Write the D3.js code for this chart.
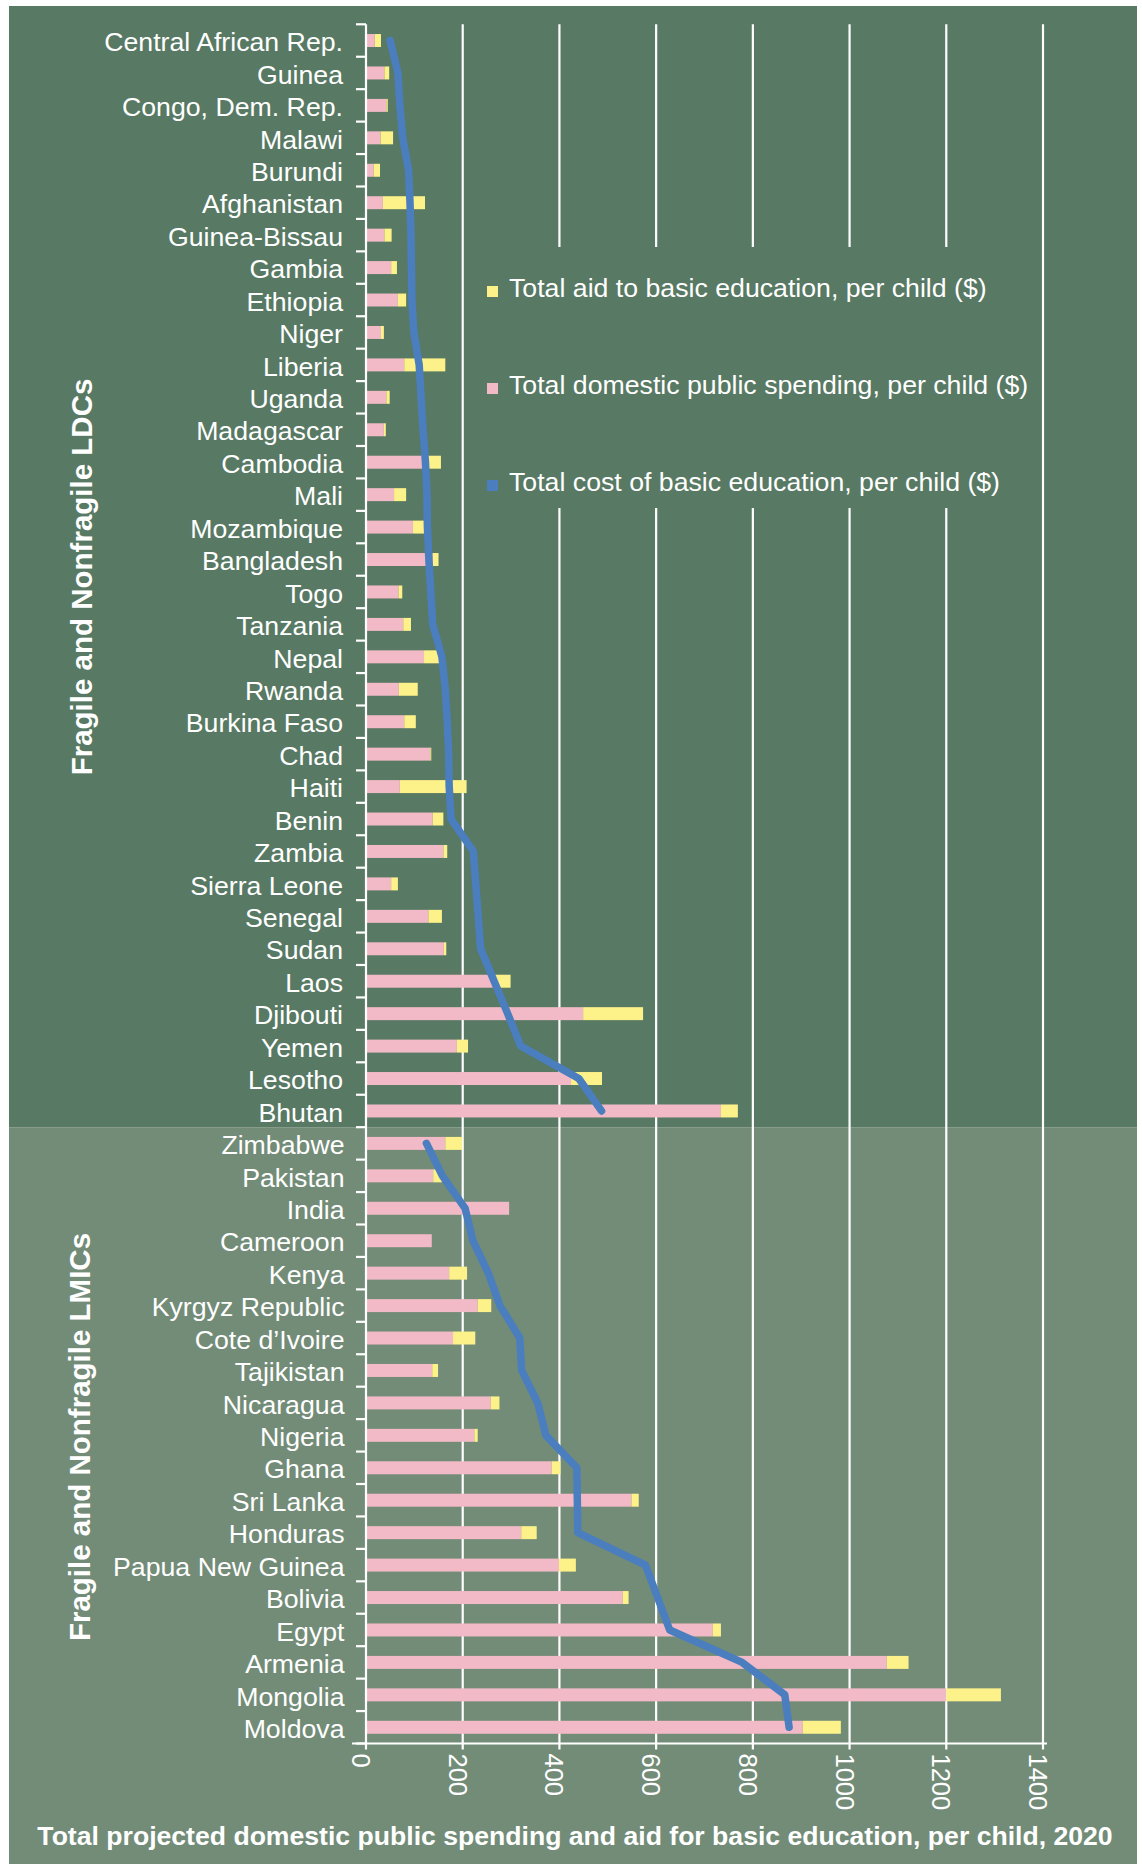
<!DOCTYPE html>
<html>
<head>
<meta charset="utf-8">
<script src="https://cdn.jsdelivr.net/npm/d3@7"></script>
<style>
  body { margin: 0; background: #ffffff; }
  svg { display: block; }
  text { font-family: "Liberation Sans", Arial, Helvetica, sans-serif; fill: #ffffff; }
</style>
</head>
<body>
<svg id="chart" width="1142" height="1864"></svg>
<script>
// ---- Fragile and nonfragile least developed countries ----
const ldcCountries = ["Central African Rep.", "Guinea", "Congo, Dem. Rep.", "Malawi", "Burundi",
  "Afghanistan", "Guinea-Bissau", "Gambia", "Ethiopia", "Niger", "Liberia", "Uganda", "Madagascar",
  "Cambodia", "Mali", "Mozambique", "Bangladesh", "Togo", "Tanzania", "Nepal", "Rwanda",
  "Burkina Faso", "Chad", "Haiti", "Benin", "Zambia", "Sierra Leone", "Senegal", "Sudan", "Laos",
  "Djibouti", "Yemen", "Lesotho", "Bhutan"];
const ldcDomestic = [18, 38, 42, 30, 16, 35, 38, 52, 66, 31, 79, 42, 37, 125, 58, 97, 138, 67, 77,
  120, 68, 79, 133, 70, 138, 160, 52, 129, 161, 265, 449, 188, 424, 734];
const ldcAid = [13, 10, 3, 26, 13, 87, 15, 12, 17, 6, 85, 7, 4, 30, 25, 25, 12, 8, 16,
  33, 39, 24, 2, 138, 22, 8, 14, 28, 5, 34, 124, 23, 64, 35];
const ldcCost = [50, 66, 70, 76, 88, 91, 93, 94, 95, 99, 110, 114, 118, 123, 126, 127, 130, 134, 138,
  157, 164, 168, 171, 172, 176, 222, 227, 232, 237, 265, 293, 320, 440, 487];

// ---- Fragile and nonfragile lower-middle-income countries ----
const lmicCountries = ["Zimbabwe", "Pakistan", "India", "Cameroon", "Kenya", "Kyrgyz Republic",
  "Cote d\u2019Ivoire", "Tajikistan", "Nicaragua", "Nigeria", "Ghana", "Sri Lanka", "Honduras",
  "Papua New Guinea", "Bolivia", "Egypt", "Armenia", "Mongolia", "Moldova"];
const lmicDomestic = [164, 139, 296, 136, 172, 231, 180, 137, 258, 224, 384, 549, 321, 399, 531, 717,
  1077, 1200, 903];
const lmicAid = [35, 18, 0, 0, 37, 28, 46, 12, 18, 7, 18, 15, 32, 35, 12, 17, 45, 113, 79];
const lmicCost = [125, 158, 205, 221, 253, 277, 318, 322, 355, 372, 436, 437, 438, 578, 603, 628,
  778, 866, 875];

const groupLabels = ["Fragile and Nonfragile LDCs", "Fragile and Nonfragile LMICs"];
const xTicks = [0, 200, 400, 600, 800, 1000, 1200, 1400];
const legendLabels = ["Total aid to basic education, per child ($)",
  "Total domestic public spending, per child ($)",
  "Total cost of basic education, per child ($)"];
const xTitle = "Total projected domestic public spending and aid for basic education, per child, 2020";

// ---- colours ----
const darkPanel = "#587963";
const lightPanel = "#738c78";
const pink = "#f2bac6";
const yellow = "#fdf189";
const blue = "#4a7ebf";
const white = "#ffffff";

// ---- rows ----
const ldcRows = ldcCountries.map((c, i) => ({ country: c, domestic: ldcDomestic[i], aid: ldcAid[i], cost: ldcCost[i] }));
const lmicRows = lmicCountries.map((c, i) => ({ country: c, domestic: lmicDomestic[i], aid: lmicAid[i], cost: lmicCost[i] }));
const rows = ldcRows.concat(lmicRows);

const svg = d3.select("#chart");
const W = 1142, H = 1864;

const x = d3.scaleLinear().domain([0, 1400]).range([366, 1043]);
const y = d3.scaleBand()
  .domain(rows.map(d => d.country))
  .range([24.3, 1743.5])
  .paddingInner(0.6)
  .paddingOuter(0.3);
const slotTop = c => y(c) - (y.step() - y.bandwidth()) / 2; // upper edge of a category slot
const yMid = c => y(c) + y.bandwidth() / 2;

const plotTop = y.range()[0], plotBottom = y.range()[1];
const split = slotTop(lmicRows[0].country);

// ---- backgrounds ----
svg.append("rect").attr("x", 0).attr("y", 0).attr("width", W).attr("height", H).attr("fill", white);
svg.append("rect").attr("x", 9).attr("y", 6).attr("width", 1128).attr("height", split - 6).attr("fill", darkPanel);
svg.append("rect").attr("x", 9).attr("y", split).attr("width", 1128).attr("height", H - split).attr("fill", lightPanel);

// ---- vertical gridlines ----
svg.append("g").selectAll("line")
  .data(xTicks.filter(t => t > 0))
  .join("line")
  .attr("x1", d => x(d)).attr("x2", d => x(d))
  .attr("y1", plotTop).attr("y2", plotBottom)
  .attr("stroke", white).attr("stroke-width", 2.2);

// ---- legend box (sits over the gridlines) ----
const legend = svg.append("g");
legend.append("rect").attr("x", 470).attr("y", 247).attr("width", 568).attr("height", 261).attr("fill", darkPanel);
const legendColors = [yellow, pink, blue];
legendLabels.forEach((label, i) => {
  const base = 297 + i * 97;
  legend.append("rect").attr("x", 487).attr("y", base - 11).attr("width", 11).attr("height", 11).attr("fill", legendColors[i]);
  legend.append("text").attr("x", 509).attr("y", base).attr("font-size", 26.7).text(label);
});

// ---- stacked bars ----
const bars = svg.append("g");
bars.selectAll("rect.dom")
  .data(rows)
  .join("rect")
  .attr("class", "dom")
  .attr("x", x(0) + 1)
  .attr("y", d => y(d.country))
  .attr("width", d => Math.max(0, x(d.domestic) - x(0) - 1))
  .attr("height", y.bandwidth())
  .attr("fill", pink);
bars.selectAll("rect.aid")
  .data(rows.filter(d => d.aid > 0))
  .join("rect")
  .attr("class", "aid")
  .attr("x", d => x(d.domestic))
  .attr("y", d => y(d.country))
  .attr("width", d => x(d.domestic + d.aid) - x(d.domestic))
  .attr("height", y.bandwidth())
  .attr("fill", yellow);

// ---- cost lines (one per group) ----
const line = d3.line().x(d => x(d.cost)).y(d => yMid(d.country));
[ldcRows, lmicRows].forEach(group => {
  svg.append("path")
    .attr("d", line(group))
    .attr("fill", "none")
    .attr("stroke", blue)
    .attr("stroke-width", 7.5)
    .attr("stroke-linecap", "round")
    .attr("stroke-linejoin", "round");
});

// ---- category axis ----
const yAxis = svg.append("g");
yAxis.append("line")
  .attr("x1", x(0)).attr("x2", x(0))
  .attr("y1", plotTop).attr("y2", plotBottom)
  .attr("stroke", white).attr("stroke-width", 2.2);
const boundaries = rows.map(d => slotTop(d.country)).concat([plotBottom]);
yAxis.selectAll("line.tick")
  .data(boundaries)
  .join("line")
  .attr("class", "tick")
  .attr("x1", x(0) - 10).attr("x2", x(0))
  .attr("y1", d => d).attr("y2", d => d)
  .attr("stroke", white).attr("stroke-width", 2.2);
yAxis.selectAll("text")
  .data(rows)
  .join("text")
  .attr("x", d => (lmicRows.includes(d) ? 344.5 : 343))
  .attr("y", d => yMid(d.country))
  .attr("dy", "0.4em")
  .attr("text-anchor", "end")
  .attr("font-size", 26.7)
  .text(d => d.country);

// ---- value axis ----
const xAxis = svg.append("g");
xAxis.append("line")
  .attr("x1", x(0) - 14).attr("x2", x(1400) + 4)
  .attr("y1", plotBottom).attr("y2", plotBottom)
  .attr("stroke", white).attr("stroke-width", 2.2);
xAxis.selectAll("line.tick")
  .data(xTicks)
  .join("line")
  .attr("class", "tick")
  .attr("x1", d => x(d)).attr("x2", d => x(d))
  .attr("y1", plotBottom).attr("y2", plotBottom + 6)
  .attr("stroke", white).attr("stroke-width", 2.2);
xAxis.selectAll("text")
  .data(xTicks)
  .join("text")
  .attr("transform", d => `translate(${x(d)},${plotBottom + 10}) rotate(90)`)
  .attr("x", 0)
  .attr("y", 14)
  .attr("text-anchor", "start")
  .attr("font-size", 25.5)
  .text(d => d);

// ---- group titles ----
svg.append("text")
  .attr("transform", "translate(92,577) rotate(-90)")
  .attr("text-anchor", "middle")
  .attr("font-size", 29.5).attr("font-weight", "bold")
  .text(groupLabels[0]);
svg.append("text")
  .attr("transform", "translate(90,1437) rotate(-90)")
  .attr("text-anchor", "middle")
  .attr("font-size", 29.5).attr("font-weight", "bold")
  .text(groupLabels[1]);

// ---- value axis title ----
svg.append("text")
  .attr("x", 575).attr("y", 1845)
  .attr("text-anchor", "middle")
  .attr("font-size", 26.6).attr("font-weight", "bold")
  .text(xTitle);
</script>
</body>
</html>
